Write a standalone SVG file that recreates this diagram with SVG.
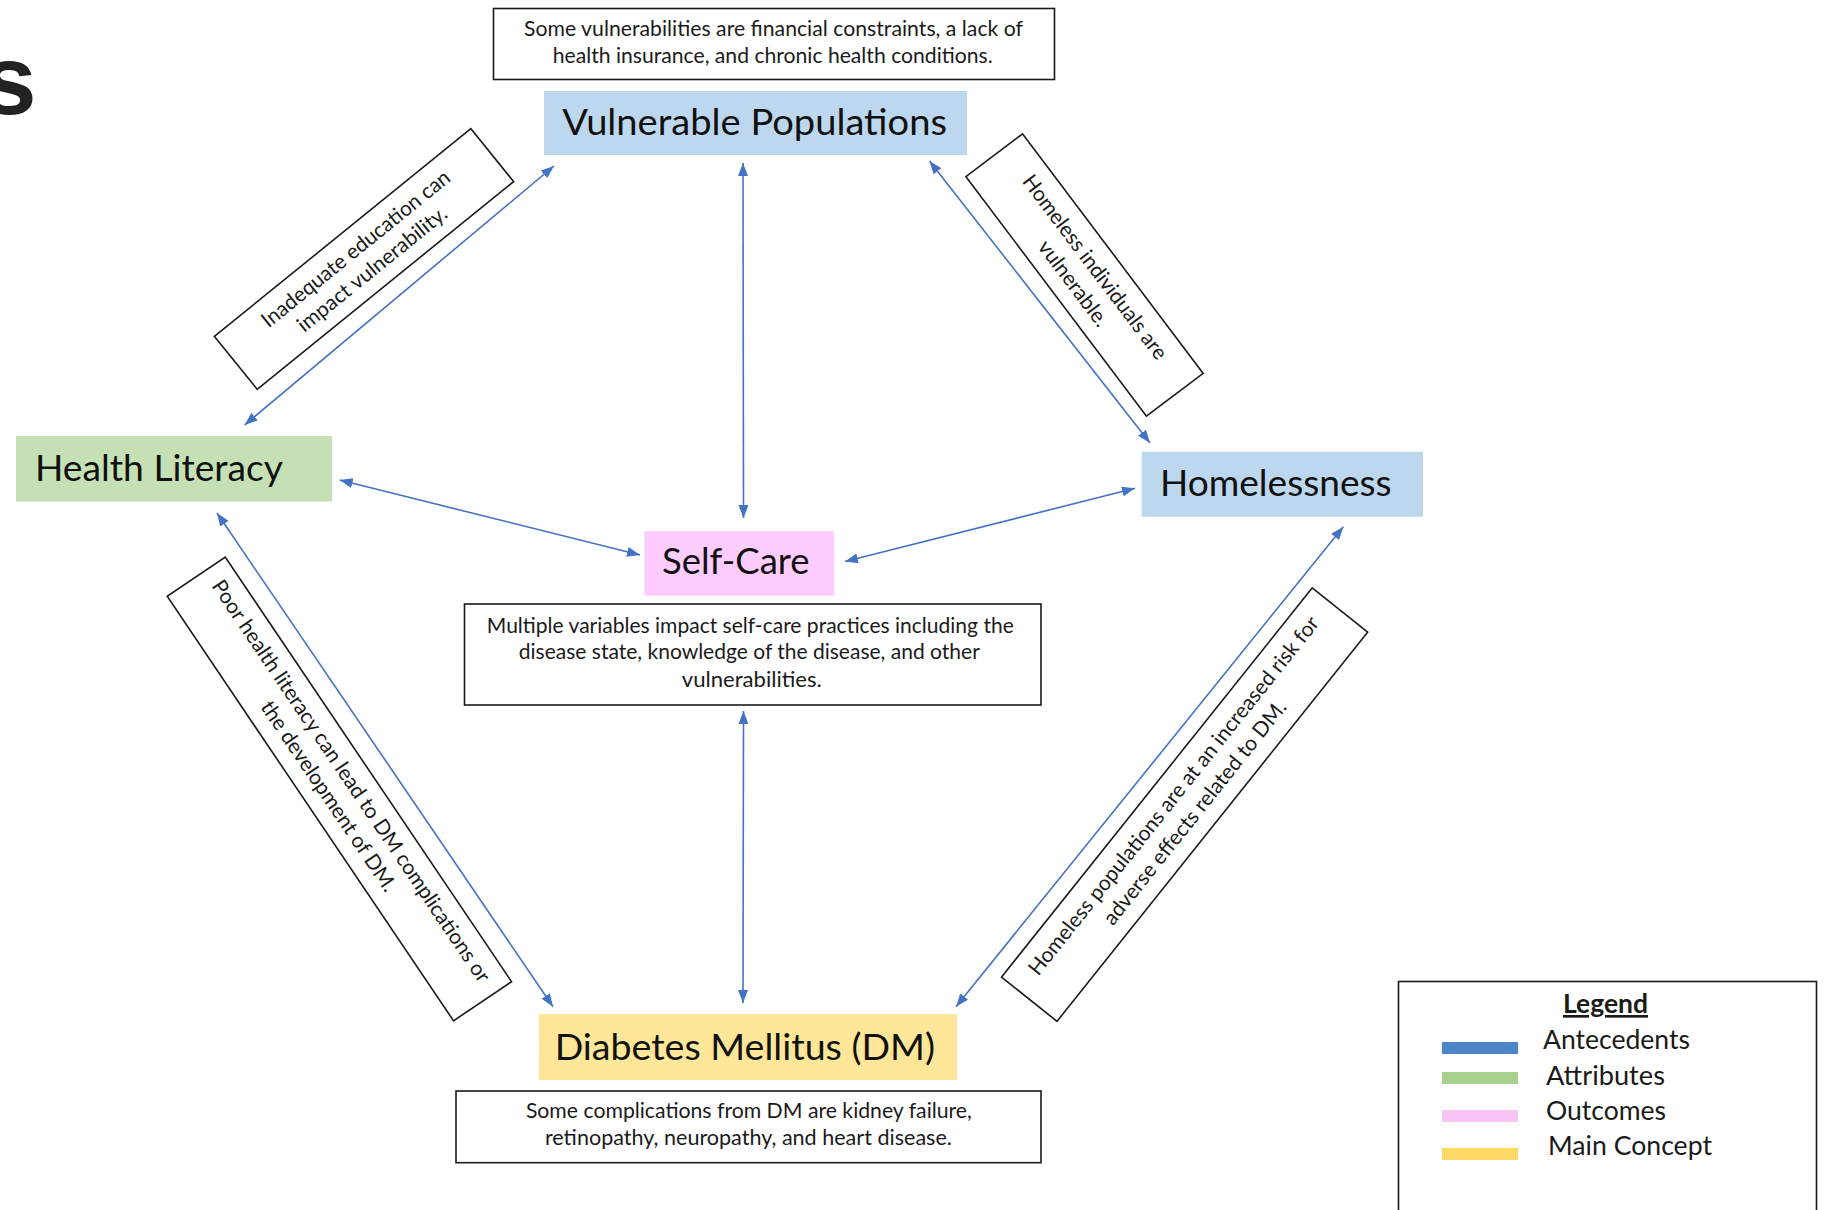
<svg xmlns="http://www.w3.org/2000/svg" width="1824" height="1210" viewBox="0 0 1824 1210">
<style>
  .node-text { font-family: Lato, "Open Sans", "Liberation Sans", sans-serif; font-size: 37.5px; fill: #111; text-anchor: middle; }
  .box-text { font-family: Lato, "Open Sans", "Liberation Sans", sans-serif; font-size: 21px; fill: #1a1a1a; text-anchor: middle; }
  .legend-text { font-family: Lato, "Open Sans", "Liberation Sans", sans-serif; font-size: 26.5px; fill: #1a1a1a; }
  .frame { fill: #fff; stroke: #1a1a1a; stroke-width: 1.6; }
  .conn { stroke: #4472C4; stroke-width: 1.6; fill: none; marker-start: url(#ah); marker-end: url(#ah); }
  .blue { fill: #BDD7EE; }
  .green { fill: #C5E0B4; }
  .pink { fill: #FFCCFF; }
  .yellow { fill: #FFE699; }
</style>
<defs>
  <marker id="ah" viewBox="0 0 13 10" refX="13" refY="5" markerWidth="13" markerHeight="10" markerUnits="userSpaceOnUse" orient="auto-start-reverse">
    <path d="M0,0 L13,5 L0,10 z" fill="#4472C4"/>
  </marker>
</defs>
<rect width="1824" height="1210" fill="#fff"/>

<text x="-18" y="114" font-family="Liberation Sans, Arial, sans-serif" font-weight="bold" font-size="98" fill="#222">s</text>

<g id="connectors">
  <line class="conn" x1="553.9" y1="166" x2="244.6" y2="425"/>
  <line class="conn" x1="743" y1="163" x2="743.5" y2="518"/>
  <line class="conn" x1="929.5" y1="161" x2="1150" y2="443"/>
  <line class="conn" x1="339.7" y1="480" x2="640" y2="555"/>
  <line class="conn" x1="1135" y1="488.3" x2="845" y2="561.5"/>
  <line class="conn" x1="217" y1="513" x2="553" y2="1006.7"/>
  <line class="conn" x1="743.5" y1="711" x2="743" y2="1003"/>
  <line class="conn" x1="1343.3" y1="526.7" x2="956" y2="1006.7"/>
</g>

<g id="vp-note">
  <rect class="frame" x="493.5" y="8.5" width="561" height="71"/>
  <text class="box-text" x="773.5" y="36" textLength="499" lengthAdjust="spacingAndGlyphs">Some vulnerabilities are financial constraints, a lack of</text>
  <text class="box-text" x="772.7" y="63" textLength="440" lengthAdjust="spacingAndGlyphs">health insurance, and chronic health conditions.</text>
</g>

<g id="vulnerable-populations">
  <rect class="blue" x="544" y="91" width="423" height="64"/>
  <text class="node-text" x="754.6" y="135" textLength="384.6" lengthAdjust="spacingAndGlyphs">Vulnerable Populations</text>
</g>

<g id="health-literacy">
  <rect class="green" x="16" y="436" width="316" height="65.5"/>
  <text class="node-text" x="159" y="481" textLength="248" lengthAdjust="spacingAndGlyphs">Health Literacy</text>
</g>

<g id="homelessness">
  <rect class="blue" x="1141.7" y="451.7" width="281.3" height="65"/>
  <text class="node-text" x="1275.8" y="496" textLength="231.7" lengthAdjust="spacingAndGlyphs">Homelessness</text>
</g>

<g id="self-care">
  <rect class="pink" x="644.4" y="531" width="189.8" height="64.7"/>
  <text class="node-text" x="735.8" y="574" textLength="147.7" lengthAdjust="spacingAndGlyphs">Self-Care</text>
</g>

<g id="self-care-note">
  <rect class="frame" x="464.5" y="604" width="576.5" height="101"/>
  <text class="box-text" x="750.3" y="632.7" textLength="527" lengthAdjust="spacingAndGlyphs">Multiple variables impact self-care practices including the</text>
  <text class="box-text" x="749.3" y="659" textLength="461" lengthAdjust="spacingAndGlyphs">disease state, knowledge  of the  disease, and other</text>
  <text class="box-text" x="751.8" y="686.7" textLength="140" lengthAdjust="spacingAndGlyphs">vulnerabilities.</text>
</g>

<g id="diabetes-mellitus">
  <rect class="yellow" x="539" y="1014" width="418" height="66"/>
  <text class="node-text" x="744.8" y="1059.5" textLength="380.3" lengthAdjust="spacingAndGlyphs">Diabetes Mellitus (DM)</text>
</g>

<g id="dm-note">
  <rect class="frame" x="456" y="1091" width="585" height="71.7"/>
  <text class="box-text" x="748.9" y="1118.3" textLength="446" lengthAdjust="spacingAndGlyphs">Some complications from DM are kidney failure,</text>
  <text class="box-text" x="748.4" y="1145" textLength="407" lengthAdjust="spacingAndGlyphs">retinopathy, neuropathy, and heart disease.</text>
</g>

<g id="label-education" transform="translate(364,259) rotate(-39)">
  <rect class="frame" x="-165" y="-34" width="330" height="68"/>
  <text class="box-text" x="0" y="-6" textLength="236" lengthAdjust="spacingAndGlyphs">Inadequate education can</text>
  <text class="box-text" x="0" y="20" textLength="186" lengthAdjust="spacingAndGlyphs">impact vulnerability.</text>
</g>

<g id="label-homeless-vulnerable" transform="translate(1084.5,275) rotate(53)">
  <rect class="frame" x="-150" y="-35.5" width="300" height="71"/>
  <text class="box-text" x="0" y="-6" textLength="225" lengthAdjust="spacingAndGlyphs">Homeless individuals are</text>
  <text class="box-text" x="0" y="21" textLength="102" lengthAdjust="spacingAndGlyphs">vulnerable.</text>
</g>

<g id="label-literacy-dm" transform="translate(339.4,789) rotate(56)">
  <rect class="frame" x="-256" y="-35" width="512" height="70"/>
  <text class="box-text" x="0" y="-7" textLength="480" lengthAdjust="spacingAndGlyphs">Poor health literacy can lead to DM complications or</text>
  <text class="box-text" x="0" y="20" textLength="225" lengthAdjust="spacingAndGlyphs">the development  of DM.</text>
</g>

<g id="label-homeless-dm" transform="translate(1184.6,804.6) rotate(-51.4)">
  <rect class="frame" x="-249" y="-35.5" width="498" height="71"/>
  <text class="box-text" x="0" y="-7" textLength="452" lengthAdjust="spacingAndGlyphs">Homeless populations are at an increased risk for</text>
  <text class="box-text" x="0" y="20" textLength="280" lengthAdjust="spacingAndGlyphs">adverse effects  related to DM.</text>
</g>

<g id="legend">
  <rect class="frame" x="1398.5" y="981.5" width="418" height="260"/>
  <text class="legend-text" x="1605.5" y="1013" font-weight="bold" text-anchor="middle" text-decoration="underline" textLength="85" lengthAdjust="spacingAndGlyphs">Legend</text>
  <rect x="1442" y="1042" width="76" height="12" fill="#4A86C8"/>
  <rect x="1442" y="1072" width="76" height="12" fill="#A9D18E"/>
  <rect x="1442" y="1110" width="76" height="12" fill="#FAC3F5"/>
  <rect x="1442" y="1148" width="76" height="12" fill="#FFD966"/>
  <text class="legend-text" x="1543" y="1049" textLength="147" lengthAdjust="spacingAndGlyphs">Antecedents</text>
  <text class="legend-text" x="1546" y="1085" textLength="119" lengthAdjust="spacingAndGlyphs">Attributes</text>
  <text class="legend-text" x="1546" y="1120" textLength="120" lengthAdjust="spacingAndGlyphs">Outcomes</text>
  <text class="legend-text" x="1548" y="1155" textLength="164" lengthAdjust="spacingAndGlyphs">Main Concept</text>
</g>
</svg>
